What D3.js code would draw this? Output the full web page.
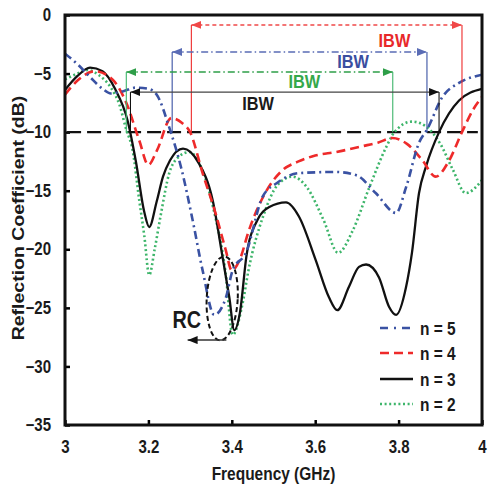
<!DOCTYPE html>
<html>
<head>
<meta charset="utf-8">
<script src="https://cdn.jsdelivr.net/npm/d3@7"></script>
<style>
  body { margin: 0; background: #fff; }
  text { font-family: "Liberation Sans", Arial, sans-serif; font-weight: bold; }
</style>
</head>
<body>
<div id="chart"></div>
<script>
// values (frequency in GHz, reflection coefficient in dB)
const n5Freq = [3.00,3.03,3.06,3.09,3.11,3.14,3.17,3.20,3.22,3.25,3.279,3.306,3.33,3.358,3.386,3.402,3.434,3.474,3.51,3.56,3.65,3.70,3.745,3.794,3.818,3.849,3.868,3.905,3.945,4.00];
const n5Db   = [-3.3,-4.2,-5.3,-6.3,-6.7,-6.5,-6.2,-6.3,-6.8,-9.6,-13.1,-17.5,-21.8,-25.6,-24.1,-21.8,-20.3,-15.5,-14.3,-13.5,-13.4,-13.7,-15.2,-16.9,-14.7,-10.9,-9.8,-7.0,-5.8,-5.1];

const n4Freq = [3.00,3.03,3.071,3.115,3.147,3.178,3.20,3.22,3.255,3.28,3.30,3.33,3.36,3.385,3.40,3.42,3.44,3.48,3.52,3.56,3.60,3.65,3.713,3.75,3.785,3.82,3.857,3.889,3.92,3.952,3.98,4.00];
const n4Db   = [-6.8,-5.6,-4.8,-5.55,-7.5,-10.7,-12.8,-11.6,-8.8,-9.2,-10.0,-13.5,-16.8,-20.0,-21.8,-20.8,-18.5,-15.2,-13.3,-12.5,-12.0,-11.7,-11.2,-10.9,-10.5,-11.0,-12.4,-13.8,-12.5,-10.0,-8.0,-7.0];

const n3Freq = [3.00,3.03,3.06,3.09,3.12,3.15,3.17,3.19,3.202,3.22,3.235,3.252,3.283,3.32,3.354,3.378,3.394,3.406,3.42,3.435,3.46,3.49,3.53,3.561,3.601,3.633,3.653,3.681,3.705,3.722,3.753,3.777,3.794,3.818,3.832,3.849,3.866,3.897,3.945,4.00];
const n3Db   = [-6.4,-5.2,-4.5,-4.8,-6.3,-9.0,-12.5,-16.8,-18.1,-15.9,-13.8,-12.4,-11.4,-12.6,-15.8,-20.7,-24.1,-26.9,-25.3,-20.6,-17.6,-16.4,-16.0,-17.2,-20.9,-24.1,-25.2,-23.2,-21.5,-21.3,-22.4,-24.9,-25.6,-23.2,-20.3,-15.2,-12.9,-10.0,-7.3,-6.3];

const n2Freq = [3.00,3.03,3.055,3.08,3.11,3.13,3.147,3.162,3.178,3.19,3.202,3.215,3.23,3.25,3.27,3.298,3.33,3.355,3.385,3.402,3.426,3.44,3.475,3.51,3.545,3.58,3.62,3.655,3.69,3.73,3.77,3.79,3.832,3.865,3.90,3.93,3.961,4.00];
const n2Db   = [-5.5,-5.0,-4.7,-5.1,-6.2,-7.6,-9.8,-11.5,-15.8,-18.8,-22.2,-20.0,-17.0,-13.5,-12.2,-11.7,-13.3,-16.4,-22.0,-27.3,-24.6,-21.8,-17.2,-14.5,-13.8,-14.7,-17.5,-20.3,-18.4,-14.7,-11.3,-10.0,-9.1,-9.5,-11.0,-13.2,-15.2,-14.1];

const seriesNames = ["n = 5", "n = 4", "n = 3", "n = 2"];
const xTicks = [3, 3.2, 3.4, 3.6, 3.8, 4];
const yTicks = [0, -5, -10, -15, -20, -25, -30, -35];
const threshold = -10;

// impedance bandwidth arrows
const ibwSeries  = ["n = 4", "n = 5", "n = 2", "n = 3"];
const ibwLow     = [3.303, 3.257, 3.147, 3.157];
const ibwHigh    = [3.952, 3.868, 3.786, 3.897];
const ibwLevel   = [-0.85, -3.16, -4.87, -6.58];
const ibwLabelF  = [3.790, 3.691, 3.574, 3.463];
const ibwLabelDb = [-2.73, -4.53, -6.23, -8.11];

// "RC" annotation
const rcCenter = [3.377, -24.2];
const rcArrowFrom = [3.387, -27.75];
const rcArrowTo = [3.294, -27.75];
const rcLabel = [3.292, -26.73];

const curves = {
  "n = 5": { f: n5Freq, v: n5Db },
  "n = 4": { f: n4Freq, v: n4Db },
  "n = 3": { f: n3Freq, v: n3Db },
  "n = 2": { f: n2Freq, v: n2Db }
};

const style = {
  "n = 5": { color: "#3a52a3", dash: "8,4,2,4", width: 2.6, text: "#3a4ea0", arrow: "#5a6cb5", arrowDash: "7,3,1.5,3" },
  "n = 4": { color: "#ee2a2a", dash: "9,5", width: 2.6, text: "#e8282a", arrow: "#f04848", arrowDash: "4,3" },
  "n = 3": { color: "#111111", dash: null, width: 2.3, text: "#1a1a1a", arrow: "#444444", arrowDash: null },
  "n = 2": { color: "#3db56a", dash: "2,2.6", width: 2.6, text: "#35a84a", arrow: "#2e9e48", arrowDash: "7,3,1.5,3" }
};

const sx = 0.86; // the lettering in the figure is horizontally squeezed

const margin = { top: 15, right: 7, bottom: 61, left: 65 },
      width = 489 - margin.left - margin.right,
      height = 486 - margin.top - margin.bottom;

const svg = d3.select("#chart").append("svg")
    .attr("width", 489)
    .attr("height", 486)
  .append("g")
    .attr("transform", `translate(${margin.left},${margin.top})`);

const x = d3.scaleLinear().domain([3, 4]).range([0, width]);
const y = d3.scaleLinear().domain([-35, 0]).range([height, 0]);

const defs = svg.append("defs");
defs.append("clipPath").attr("id", "plot-clip")
  .append("rect").attr("width", width).attr("height", height);

seriesNames.forEach((name, i) => {
  defs.append("marker")
      .attr("id", "arrow" + i)
      .attr("viewBox", "0 0 10 8")
      .attr("refX", 10)
      .attr("refY", 4)
      .attr("markerWidth", 10)
      .attr("markerHeight", 8)
      .attr("markerUnits", "userSpaceOnUse")
      .attr("orient", "auto-start-reverse")
    .append("path")
      .attr("d", "M0,0L10,4L0,8Z")
      .attr("fill", style[name].arrow === "#444444" ? "#111" : style[name].arrow);
});

// axes with inward ticks
const xAxis = svg.append("g")
    .attr("transform", `translate(0,${height})`)
    .call(d3.axisBottom(x).tickValues(xTicks).tickSizeInner(-5).tickSizeOuter(0).tickPadding(16)
      .tickFormat(d3.format("")));
xAxis.select(".domain").remove();
xAxis.selectAll(".tick line").attr("stroke-width", 2.5);
xAxis.selectAll(".tick text")
    .attr("font-size", 17.5)
    .attr("fill", "#1a1a1a")
    .attr("transform", `scale(${sx},1)`);

const yAxis = svg.append("g")
    .call(d3.axisLeft(y).tickValues(yTicks).tickSizeInner(-5).tickSizeOuter(0).tickPadding(0)
      .tickFormat(d3.format("")));
yAxis.select(".domain").remove();
yAxis.selectAll(".tick line").attr("stroke-width", 2.5);
yAxis.selectAll(".tick text")
    .attr("font-size", 17.5)
    .attr("fill", "#1a1a1a")
    .attr("x", -14 / sx)
    .attr("transform", `scale(${sx},1)`);

// -10 dB reference
svg.append("line")
    .attr("x1", x(3.005)).attr("x2", x(3.99))
    .attr("y1", y(threshold)).attr("y2", y(threshold))
    .attr("stroke", "#111")
    .attr("stroke-width", 2.2)
    .attr("stroke-dasharray", "14,6");

// curves
const line = d3.line()
  .x(d => x(d[0]))
  .y(d => y(d[1]))
  .curve(d3.curveMonotoneX);

const plot = svg.append("g").attr("clip-path", "url(#plot-clip)");
["n = 2", "n = 3", "n = 4", "n = 5"].forEach(name => {
  const c = curves[name];
  const pts = c.f.map((f, i) => [f, c.v[i]]);
  plot.append("path")
      .attr("d", line(pts))
      .attr("fill", "none")
      .attr("stroke", style[name].color)
      .attr("stroke-width", style[name].width)
      .attr("stroke-dasharray", style[name].dash);
});

// IBW arrows
ibwSeries.forEach((name, i) => {
  const st = style[name];
  const mi = seriesNames.indexOf(name);
  const g = svg.append("g");
  g.append("line")
      .attr("x1", x(ibwLow[i])).attr("x2", x(ibwHigh[i]))
      .attr("y1", y(ibwLevel[i])).attr("y2", y(ibwLevel[i]))
      .attr("stroke", st.arrow)
      .attr("stroke-width", 1.4)
      .attr("stroke-dasharray", st.arrowDash)
      .attr("marker-start", `url(#arrow${mi})`)
      .attr("marker-end", `url(#arrow${mi})`);
  [ibwLow[i], ibwHigh[i]].forEach(f => {
    g.append("line")
        .attr("x1", x(f)).attr("x2", x(f))
        .attr("y1", y(ibwLevel[i])).attr("y2", y(threshold))
        .attr("stroke", name === "n = 3" ? "#111" : st.color)
        .attr("stroke-width", 1.1);
  });
  g.append("text")
      .attr("transform", `translate(${x(ibwLabelF[i])},${y(ibwLabelDb[i])}) scale(${sx},1)`)
      .attr("text-anchor", "middle")
      .attr("font-size", 19)
      .attr("fill", st.text)
      .text("IBW");
});

// RC ellipse and arrow
svg.append("ellipse")
    .attr("transform", `translate(${x(rcCenter[0])},${y(rcCenter[1])}) rotate(3)`)
    .attr("rx", 15.5)
    .attr("ry", 42)
    .attr("fill", "none")
    .attr("stroke", "#111")
    .attr("stroke-width", 2)
    .attr("stroke-dasharray", "5,3");

svg.append("line")
    .attr("x1", x(rcArrowFrom[0])).attr("x2", x(rcArrowTo[0]))
    .attr("y1", y(rcArrowFrom[1])).attr("y2", y(rcArrowTo[1]))
    .attr("stroke", "#333")
    .attr("stroke-width", 1.4)
    .attr("marker-end", `url(#arrow${seriesNames.indexOf("n = 3")})`);

svg.append("text")
    .attr("transform", `translate(${x(rcLabel[0])},${y(rcLabel[1])}) scale(${sx},1)`)
    .attr("text-anchor", "middle")
    .attr("font-size", 23)
    .attr("fill", "#1a1a1a")
    .text("RC");

// legend
const legendRows = [313, 338, 364, 389];
const legend = svg.append("g");
seriesNames.forEach((name, i) => {
  const st = style[name];
  legend.append("line")
      .attr("x1", 315).attr("x2", 348)
      .attr("y1", legendRows[i]).attr("y2", legendRows[i])
      .attr("stroke", st.color)
      .attr("stroke-width", st.width)
      .attr("stroke-dasharray", name === "n = 5" ? "8,6,2,6" : st.dash);
  legend.append("text")
      .attr("transform", `translate(355,${legendRows[i] + 6.5}) scale(${sx},1)`)
      .attr("font-size", 18)
      .attr("fill", "#1a1a1a")
      .text(name);
});

// frame
svg.append("rect")
    .attr("width", width)
    .attr("height", height)
    .attr("fill", "none")
    .attr("stroke", "#111")
    .attr("stroke-width", 3);

// axis titles
svg.append("text")
    .attr("transform", `translate(${width / 2},${height + 55}) scale(${sx},1)`)
    .attr("text-anchor", "middle")
    .attr("font-size", 18)
    .attr("fill", "#1a1a1a")
    .text("Frequency (GHz)");

svg.append("text")
    .attr("transform", `translate(${24 - margin.left},${203}) rotate(-90) scale(1,${sx})`)
    .attr("text-anchor", "middle")
    .attr("font-size", 19.5)
    .attr("fill", "#1a1a1a")
    .text("Reflection Coefficient (dB)");
</script>
</body>
</html>
